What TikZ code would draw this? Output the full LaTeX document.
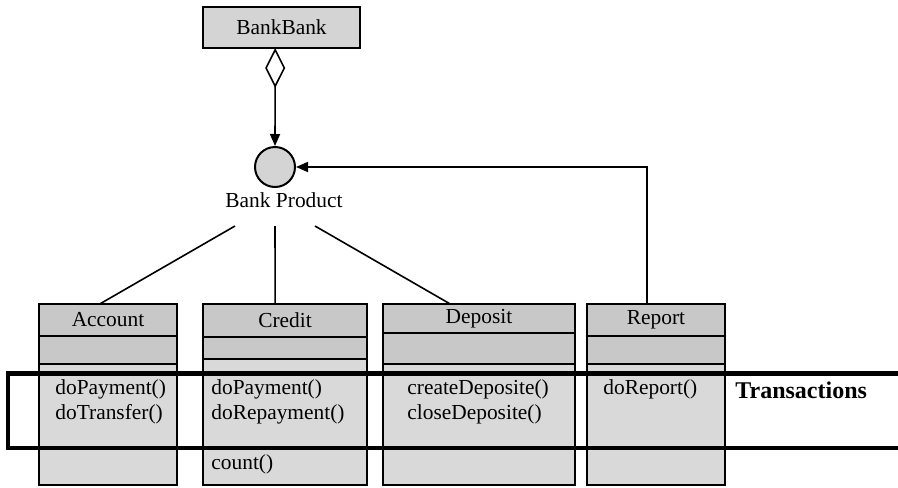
\documentclass[tikz,border=0pt]{standalone}
\usepackage{fontspec}
\setmainfont{Liberation Serif}
\usetikzlibrary{calc,positioning,arrows.meta,shapes.geometric}
\definecolor{hdgray}{RGB}{200,200,200}
\definecolor{opgray}{RGB}{217,217,217}
\definecolor{bankgray}{RGB}{212,212,212}
\tikzset{
  >={Triangle[length=6pt,width=5pt]},
  txt/.style={font=\fontsize{10.7}{12.5}\selectfont},
  every node/.style={txt},
  clshead/.style={draw, line width=1pt, fill=hdgray, inner sep=0pt,
    outer sep=0pt, anchor=north west},
  clsattr/.style={draw, line width=1pt, fill=hdgray, inner sep=0pt,
    outer sep=0pt, anchor=north},
  clsops/.style={draw, line width=1pt, fill=opgray, inner sep=0pt,
    outer sep=0pt, anchor=north},
  methods/.style={anchor=north west, align=left, inner sep=0pt},
  conn/.style={draw, line width=0.8pt},
  aggr/.style={conn, {Diamond[open,length=20pt,width=10pt]}->},
  trans/.style={line width=2.2pt},
}

\begin{document}
\begin{tikzpicture}[x=0.5pt,y=-0.5pt]
  \useasboundingbox (0,0) rectangle (898,487);

  % top of the model
  \node[draw, line width=1pt, fill=bankgray, minimum width=78.5pt,
    minimum height=20.5pt, inner sep=0pt, outer sep=0pt,
    anchor=north west] (bank) at (203,7) {BankBank};
  \node[circle, draw, line width=1pt, fill=bankgray, minimum size=20pt,
    inner sep=0pt] (prod) at (275,167) {};
  \node (prodlbl) at (284,200) {Bank Product};
  \coordinate (p-acc) at (235,226);
  \coordinate (p-cre) at (275,226);
  \coordinate (p-dep) at (315,226);

  % classes
  \node[clshead, minimum width=69pt, minimum height=16pt] (acc) at (39,304) {Account};
  \node[clsattr, minimum width=69pt, minimum height=14pt] (acc-a) at (acc.south) {};
  \node[clsops, minimum width=69pt, minimum height=60.5pt] (acc-o) at (acc-a.south) {};

  \node[clshead, minimum width=82pt, minimum height=16.5pt] (cre) at (203,304) {Credit};
  \node[clsattr, minimum width=82pt, minimum height=11pt] (cre-a) at (cre.south) {};
  \node[clsops, minimum width=82pt, minimum height=63pt] (cre-o) at (cre-a.south) {};

  \node[clshead, minimum width=96pt, minimum height=14.5pt] (dep) at (383,304) {Deposit};
  \node[clsattr, minimum width=96pt, minimum height=15.5pt] (dep-a) at (dep.south) {};
  \node[clsops, minimum width=96pt, minimum height=60.5pt] (dep-o) at (dep-a.south) {};

  \node[clshead, minimum width=69pt, minimum height=16pt] (rep) at (587,304) {Report};
  \node[clsattr, minimum width=69pt, minimum height=14pt] (rep-a) at (rep.south) {};
  \node[clsops, minimum width=69pt, minimum height=60.5pt] (rep-o) at (rep-a.south) {};

  \node[methods] (acc-m) at (55,379) {doPayment()\\doTransfer()};
  \node[methods] (cre-m) at (211,379) {doPayment()\\doRepayment()};
  \node[methods] (cre-c) at (211,454) {count()};
  \node[methods] (dep-m) at (407,379) {createDeposite()\\closeDeposite()};
  \node[methods] (rep-m) at (603,379) {doReport()};

  % transactions band
  \draw[trans] (900,373.5) -- (8,373.5) -- (8,448) -- (900,448);
  \node[font=\fontsize{12}{14}\selectfont\bfseries, anchor=west, inner sep=0pt]
    (trlbl) at (735,390) {Transactions};

  % connectors
  \draw[aggr] ($(bank.south west)!0.46!(bank.south east)$) -- (prod.north);
  \draw[conn] (p-acc) -- ($(acc.north west)!0.44!(acc.north east)$);
  \draw[conn] (p-cre) -- ($(cre.north west)!0.44!(cre.north east)$);
  \draw[conn] (p-dep) -- ($(dep.north west)!0.35!(dep.north east)$);
  \draw[conn,->] ($(rep.north west)!0.435!(rep.north east)$) |- (prod.east);
\end{tikzpicture}
\end{document}
